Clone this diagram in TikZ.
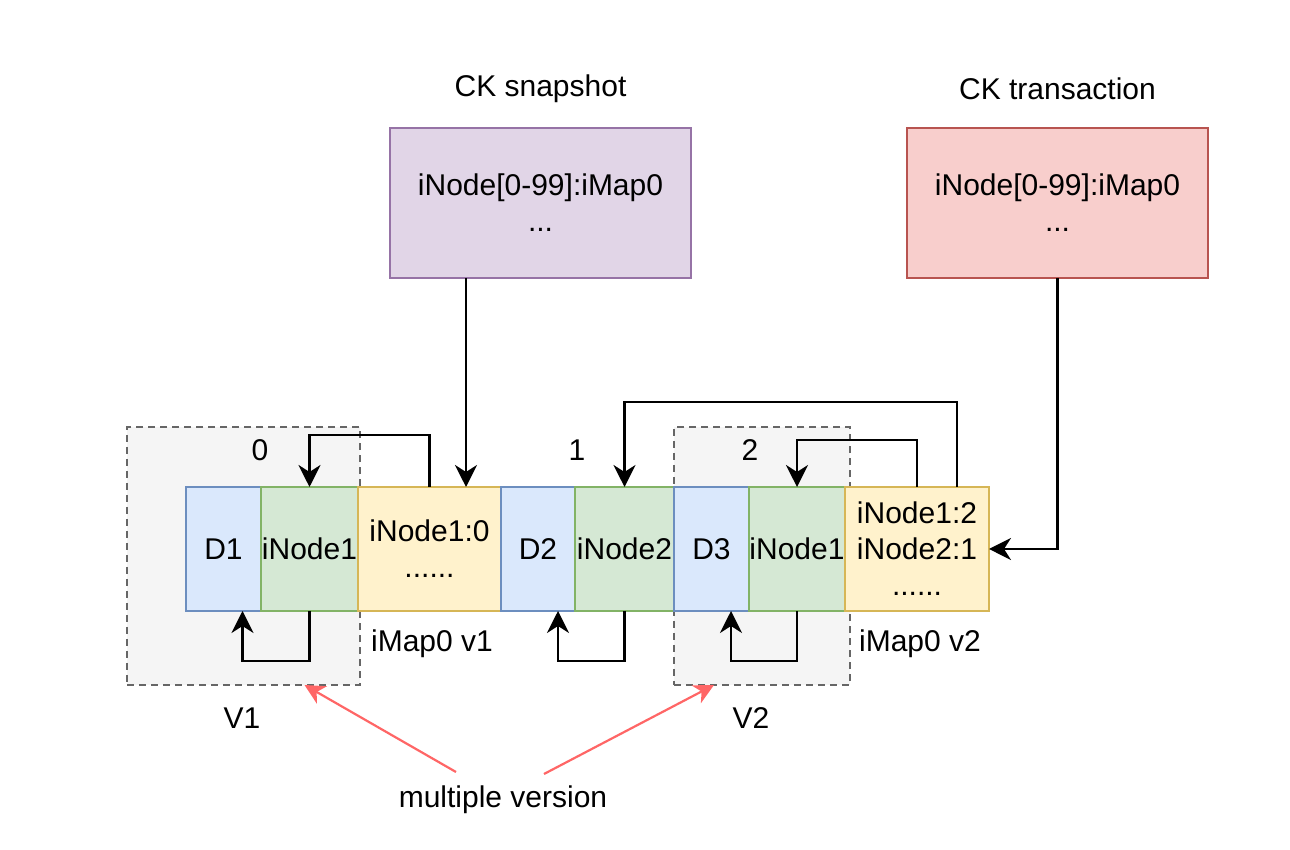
\documentclass[tikz,border=0pt]{standalone}
\usepackage{fontspec}
\setmainfont{Liberation Sans}
\usetikzlibrary{positioning,arrows.meta}
\definecolor{dfill}{HTML}{DAE8FC}
\definecolor{dline}{HTML}{6C8EBF}
\definecolor{ifill}{HTML}{D5E8D4}
\definecolor{iline}{HTML}{82B366}
\definecolor{mfill}{HTML}{FFF2CC}
\definecolor{mline}{HTML}{D6B656}
\definecolor{sfill}{HTML}{E1D5E7}
\definecolor{sline}{HTML}{9673A6}
\definecolor{tfill}{HTML}{F8CECC}
\definecolor{tline}{HTML}{B85450}
\definecolor{vfill}{HTML}{F5F5F5}
\definecolor{vline}{HTML}{666666}
\definecolor{notered}{HTML}{FF6666}

\begin{document}
\begin{tikzpicture}[x=0.5pt, y=0.5pt,
    every node/.style={font=\fontsize{15}{18}\selectfont, inner sep=0pt, outer sep=0pt},
    cell/.style={draw, line width=1pt, minimum height=62pt, align=center},
    dcell/.style={cell, draw=dline, fill=dfill},
    icell/.style={cell, draw=iline, fill=ifill},
    mcell/.style={cell, draw=mline, fill=mfill},
    ckbox/.style={draw, line width=1pt, minimum width=150.5pt, minimum height=75pt, align=center},
    vbox/.style={draw=vline, fill=vfill, line width=1pt, dash pattern=on 3.5pt off 2.5pt, minimum height=129pt},
    link/.style={line width=1.1pt, -{Stealth[length=11pt, width=11pt, inset=3.5pt]}},
    note/.style={notered, line width=1.1pt, -{Stealth[length=10pt, width=10pt, inset=3pt]}},
    ]
    \useasboundingbox (0,0) rectangle (1290,850);
    \node [vbox, minimum width=116.5pt] (v1) at (243.5,294) {};
    \node [vbox, minimum width=88pt] (v2) at (762,294) {};

    \node [dcell, minimum width=37.5pt] (d1) at (223.5,301) {D1};
    \node [icell, minimum width=48.5pt, right=0pt of d1] (i1) {iNode1};
    \node [mcell, minimum width=71.5pt, right=0pt of i1] (m1) {iNode1:0\\......};
    \node [dcell, minimum width=37pt, right=0pt of m1] (d2) {D2};
    \node [icell, minimum width=49.5pt, right=0pt of d2] (i2) {iNode2};
    \node [dcell, minimum width=37.5pt, right=0pt of i2] (d3) {D3};
    \node [icell, minimum width=48pt, right=0pt of d3] (i3) {iNode1};
    \node [mcell, minimum width=72pt, right=0pt of i3] (m2) {iNode1:2\\iNode2:1\\......};

    \node [ckbox, draw=sline, fill=sfill] (snap) at (540.5,647) {iNode[0-99]:iMap0\\...};
    \node [ckbox, draw=tline, fill=tfill] (trans) at (1057.5,647) {iNode[0-99]:iMap0\\...};
    \node (snapt) at (540.5,761) {CK snapshot};
    \node (transt) at (1057.5,761) {CK transaction};

    \node (n0) at (260,400) {0};
    \node (n1) at (577,400) {1};
    \node (n2) at (750,400) {2};
    \node (map1) at (432,206) {iMap0 v1};
    \node (map2) at (920,206) {iMap0 v2};
    \node (ver1) at (242,132) {V1};
    \node (ver2) at (751,132) {V2};
    \node (mv) at (503,50) {multiple version};
    \coordinate (mvl) at (456,78);
    \coordinate (mvr) at (544,76);

    \draw [link] ([xshift=-37.25pt]snap.south) -- ([xshift=-37.25pt]snap.south |- m1.north);
    \draw [link] (trans.south) |- (m2.east);
    \draw [link] (m1.north) -- ++(0,52) -| (i1.north);
    \draw [link] (i1.south) -- ++(0,-50) -| ([xshift=9.5pt]d1.south);
    \draw [link] (i2.south) -- ++(0,-50) -| ([xshift=10pt]d2.south);
    \draw [link] (i3.south) -- ++(0,-50) -| ([xshift=9.75pt]d3.south);
    \draw [link] (m2.north) -- ++(0,47) -| (i3.north);
    \draw [link] ([xshift=20pt]m2.north) -- ++(0,85) -| (i2.north);
    \draw [note] (mvl) -- ([xshift=30.5pt]v1.south);
    \draw [note] (mvr) -- ([xshift=-24pt]v2.south);
\end{tikzpicture}
\end{document}
